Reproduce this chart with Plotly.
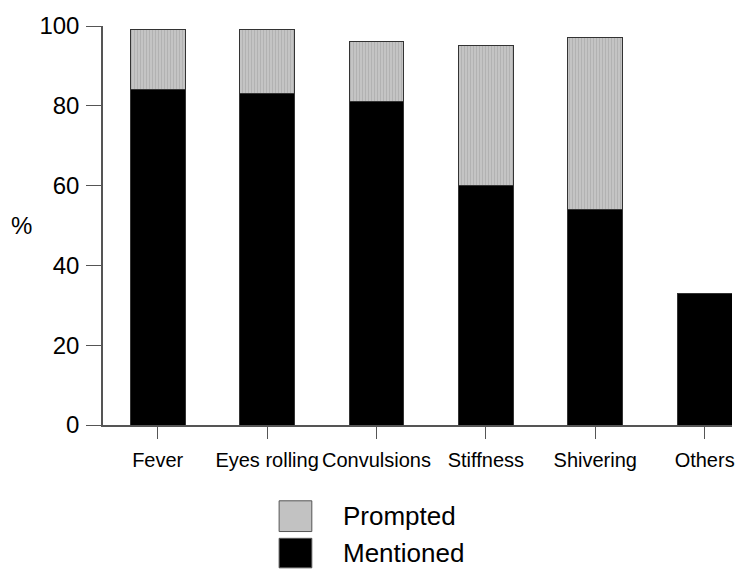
import plotly.graph_objects as go

categories = ["Fever", "Eyes rolling", "Convulsions", "Stiffness", "Shivering", "Others"]
mentioned = [84, 83, 81, 60, 54, 33]
prompted = [15, 16, 15, 35, 43, None]
y_ticks = [0, 20, 40, 60, 80, 100]

FONT = "Liberation Sans, Arial, sans-serif"

fig = go.Figure()
fig.add_trace(go.Bar(
    x=categories, y=mentioned, name="Mentioned", width=0.5,
    marker=dict(color="#000000", line=dict(color="#333333", width=1)),
))
fig.add_trace(go.Bar(
    x=categories, y=prompted, name="Prompted", width=0.5,
    marker=dict(color="#c2c2c2", line=dict(color="#333333", width=1),
                pattern=dict(shape="|", bgcolor="#c4c4c4", fgcolor="#b2b2b2",
                             size=3, solidity=0.35, fillmode="replace")),
))

fig.update_layout(
    barmode="stack",
    width=752, height=571,
    margin=dict(l=103, r=20, t=20, b=146),
    paper_bgcolor="white", plot_bgcolor="white",
    showlegend=False,
    font=dict(family=FONT, color="#000000"),
    xaxis=dict(
        range=[-0.5, 5.25], showgrid=False, zeroline=False,
        showline=True, linecolor="#555555", linewidth=1.5,
        ticks="outside", ticklen=12, tickcolor="#555555", tickwidth=1,
        tickfont=dict(size=20, family=FONT), ticklabelstandoff=4,
    ),
    yaxis=dict(
        range=[0, 100], tickvals=y_ticks, showgrid=False, zeroline=False,
        showline=True, linecolor="#555555", linewidth=1.5,
        ticks="outside", ticklen=15, tickcolor="#555555", tickwidth=1,
        tickfont=dict(size=24, family=FONT), ticklabelstandoff=2,
    ),
)

# "%" axis label
fig.add_annotation(text="%", xref="paper", yref="paper", x=-0.129, y=0.50,
                   showarrow=False, font=dict(size=24, family=FONT),
                   xanchor="center", yanchor="middle")

# custom legend (large swatches)
legend_items = [("Prompted", "#c2c2c2", -0.190, -0.267),
                ("Mentioned", "#000000", -0.284, -0.358)]
for label, col, y0, y1 in legend_items:
    fig.add_shape(type="rect", xref="paper", yref="paper",
                  x0=0.280, x1=0.332, y0=y1, y1=y0,
                  fillcolor=col, line=dict(color="#555555", width=1))
    fig.add_annotation(text=label, xref="paper", yref="paper",
                       x=0.378, y=(y0 + y1) / 2, showarrow=False,
                       xanchor="left", yanchor="middle",
                       font=dict(size=26, family=FONT))

fig.write_html("out.html",
               config={"displayModeBar": False},
               post_script="document.body.style.margin='0';document.body.style.overflow='hidden';")
